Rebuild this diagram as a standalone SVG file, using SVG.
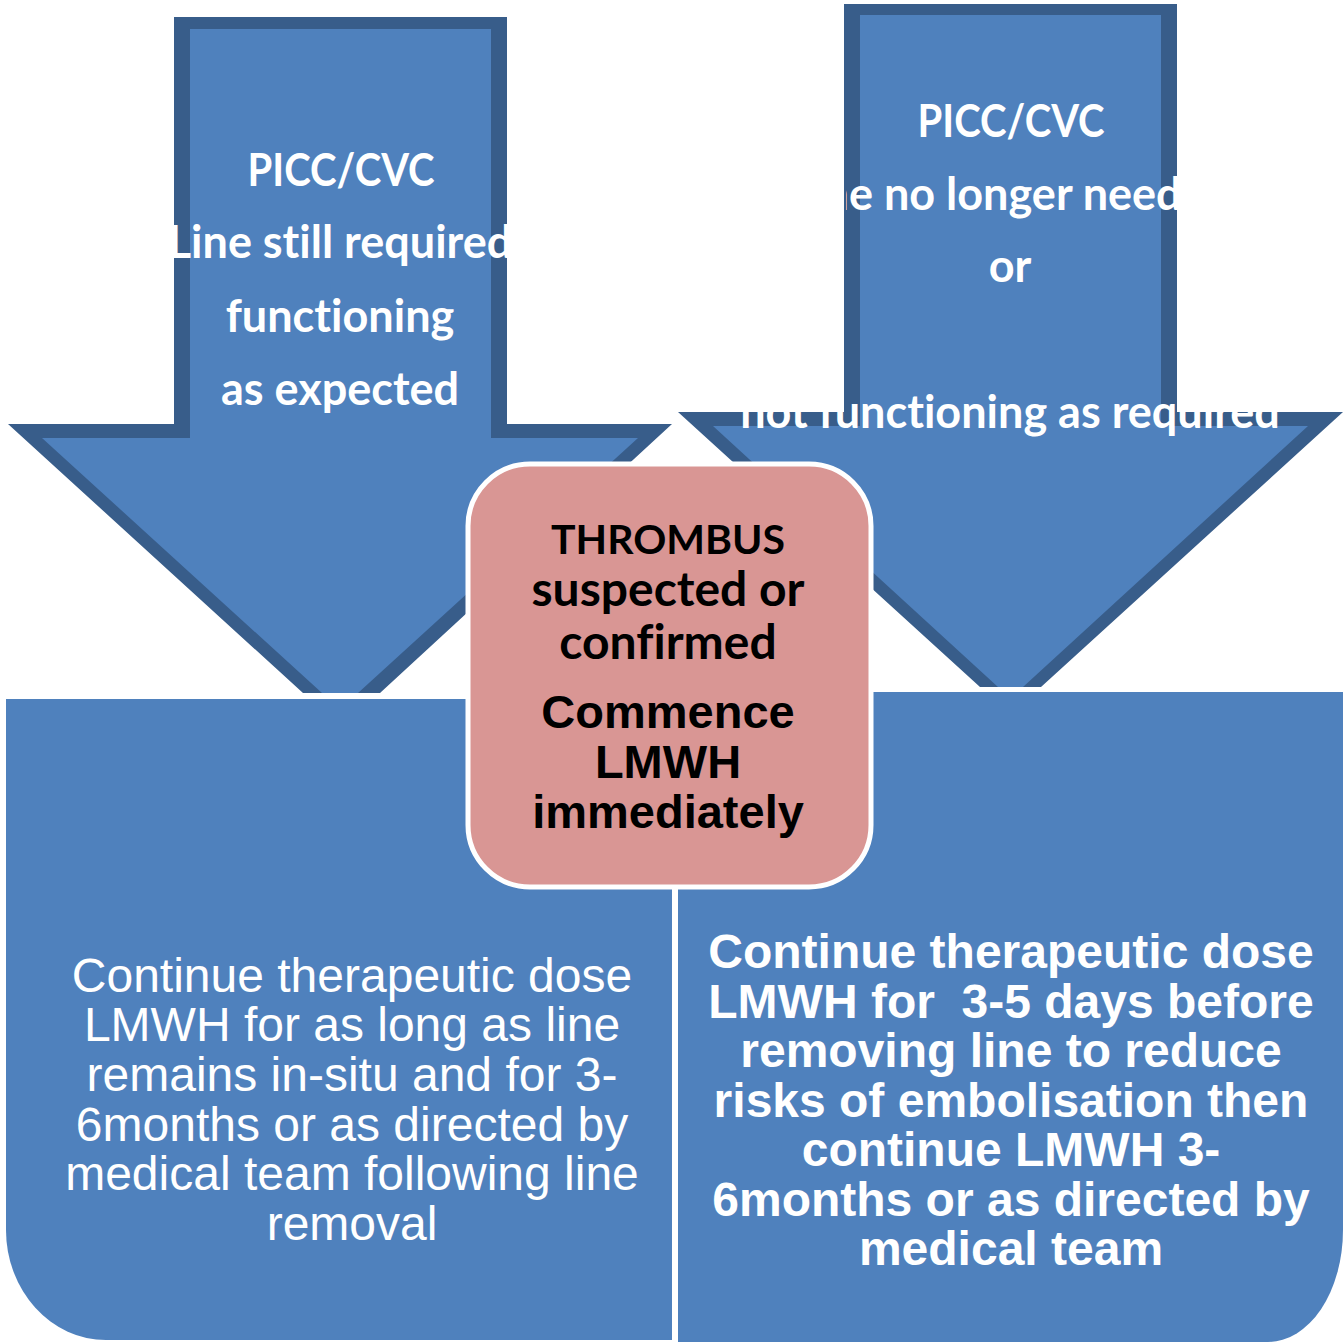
<svg xmlns="http://www.w3.org/2000/svg" width="1343" height="1343" viewBox="0 0 1343 1343">
  <style>
    .outer { fill: #385D8A; }
    .inner { fill: #4F81BD; }
    .box { fill: #4F81BD; }
    .atext { font-family: Lato, "Open Sans", sans-serif; font-weight: bold; font-size: 45px; fill: #FFFFFF; text-anchor: middle; font-variant-ligatures: none; }
    .ctext1 { font-family: Lato, "Open Sans", sans-serif; font-weight: bold; fill: #000000; text-anchor: middle; font-variant-ligatures: none; }
    .ctext2 { font-family: "Liberation Sans", Arial, sans-serif; font-weight: bold; font-size: 47px; fill: #000000; text-anchor: middle; }
    .ltext { font-family: "Liberation Sans", Arial, sans-serif; font-size: 48px; fill: #FFFFFF; text-anchor: middle; }
    .rtext { font-family: "Liberation Sans", Arial, sans-serif; font-weight: bold; font-size: 48px; fill: #FFFFFF; text-anchor: middle; white-space: pre; }
  </style>
  <defs>
    <clipPath id="clipLeft">
      <polygon points="170,17 507,17 507,424 672,424 380,693 303,693 8,424 170,424"/>
    </clipPath>
    <clipPath id="clipRight">
      <polygon points="846,4 1177,4 1177,412 1343,412 1041,687 980,687 678,412 846,412"/>
    </clipPath>
  </defs>

  <g id="box-left">
    <path class="box" d="M6,699 H672 V1340 H106 A100,110 0 0 1 6,1230 Z"/>
    <text class="ltext" x="352" y="992">Continue therapeutic dose</text>
    <text class="ltext" x="352" y="1041">LMWH for as long as line</text>
    <text class="ltext" x="352" y="1091">remains in-situ and for 3-</text>
    <text class="ltext" x="352" y="1141">6months or as directed by</text>
    <text class="ltext" x="352" y="1190">medical team following line</text>
    <text class="ltext" x="352" y="1240">removal</text>
  </g>

  <g id="box-right">
    <path class="box" d="M678,692 H1343 V1230 A75,112 0 0 1 1268,1342 H678 Z"/>
    <text class="rtext" x="1011" y="968">Continue therapeutic dose</text>
    <text class="rtext" x="1011" y="1018" xml:space="preserve">LMWH for  3-5 days before</text>
    <text class="rtext" x="1011" y="1067">removing line to reduce</text>
    <text class="rtext" x="1011" y="1117">risks of embolisation then</text>
    <text class="rtext" x="1011" y="1166">continue LMWH 3-</text>
    <text class="rtext" x="1011" y="1216">6months or as directed by</text>
    <text class="rtext" x="1011" y="1265">medical team</text>
  </g>

  <g id="arrow-left">
    <polygon class="outer" points="174,17 507,17 507,424 672,424 380,693 303,693 8,424 174,424"/>
    <polygon class="inner" points="190,29 491,29 491,438 638,438 358,693 322,693 42,438 190,438"/>
    <g clip-path="url(#clipLeft)">
      <text class="atext" x="341" y="186" textLength="187" lengthAdjust="spacingAndGlyphs">PICC/CVC</text>
      <text class="atext" x="340" y="258">Line still required</text>
      <text class="atext" x="340" y="332">functioning</text>
      <text class="atext" x="340" y="405">as expected</text>
    </g>
  </g>

  <g id="arrow-right">
    <polygon class="outer" points="844,4 1177,4 1177,412 1343,412 1041,687 980,687 678,412 844,412"/>
    <polygon class="inner" points="860,15 1161,15 1161,426 1308,426 1023,687 998,687 713,426 860,426"/>
    <g clip-path="url(#clipRight)">
      <text class="atext" x="1011" y="137" textLength="187" lengthAdjust="spacingAndGlyphs">PICC/CVC</text>
      <text class="atext" x="1010" y="210">Line no longer needed</text>
      <text class="atext" x="1010" y="282">or</text>
      <text class="atext" x="1010" y="428">not functioning as required</text>
    </g>
  </g>

  <g id="connectors"></g>

  <g id="center-box">
    <rect x="468" y="464" width="403" height="423" rx="62" ry="62" fill="#D99694" stroke="#FFFFFF" stroke-width="5"/>
    <text class="ctext1" x="668" y="554" font-size="41">THROMBUS</text>
    <text class="ctext1" x="668" y="606" font-size="48">suspected or</text>
    <text class="ctext1" x="668" y="659" font-size="48">confirmed</text>
    <text class="ctext2" x="668" y="728">Commence</text>
    <text class="ctext2" x="668" y="778">LMWH</text>
    <text class="ctext2" x="668" y="828">immediately</text>
  </g>
</svg>
